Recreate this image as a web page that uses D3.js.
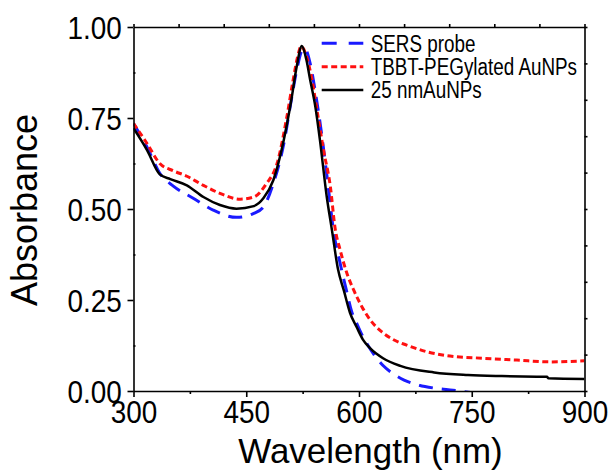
<!DOCTYPE html>
<html>
<head>
<meta charset="utf-8">
<script src="https://d3js.org/d3.v7.min.js"></script>
<style>
  body { margin: 0; background: #fff; }
  svg { font-family: "Liberation Sans", Arial, sans-serif; }
  .axis path, .axis line { stroke: #000; stroke-width: 1.6px; }
</style>
</head>
<body>
<svg id="chart"></svg>
<script>
  var w = 613, h = 471;
  var x0 = 133.5, x1 = 584.5, y0 = 391, y1 = 27;

  // series: [wavelength, absorbance]
  var sersProbe = [
    [300,0.735],[318,0.670],[335,0.598],[353,0.563],[380,0.529],[406,0.497],[437,0.477],
    [460,0.488],[473,0.506],[486,0.570],[500,0.680],[510,0.800],[518,0.890],[524,0.935],
    [528,0.940],[535,0.900],[542,0.820],[550,0.710],[558,0.580],[566,0.442],[575,0.350],
    [584,0.270],[590,0.220],[597,0.186],[605,0.150],[612,0.125],[620,0.100],[632,0.070],
    [645,0.048],[660,0.030],[680,0.016],[700,0.008],[725,0.002],[752,-0.005]
  ];
  var tbbtPeg = [
    [300,0.735],[318,0.680],[335,0.625],[353,0.605],[371,0.590],[393,0.565],[415,0.543],
    [442,0.527],[460,0.533],[477,0.570],[491,0.625],[504,0.753],[512,0.850],[518,0.915],
    [523,0.947],[530,0.920],[537,0.860],[545,0.760],[553,0.660],[562,0.560],[568,0.450],
    [575,0.387],[584,0.323],[593,0.277],[604,0.231],[615,0.195],[630,0.163],[645,0.142],
    [665,0.125],[690,0.108],[721,0.096],[765,0.090],[810,0.085],[854,0.080],[900,0.083]
  ];
  var auNPs = [
    [300,0.722],[318,0.662],[335,0.595],[349,0.582],[371,0.565],[393,0.533],[415,0.511],
    [437,0.501],[460,0.508],[473,0.530],[486,0.579],[500,0.690],[510,0.800],[517,0.890],
    [524,0.948],[530,0.910],[535,0.855],[542,0.780],[548,0.690],[557,0.535],[564,0.442],
    [572,0.335],[580,0.275],[588,0.215],[597,0.175],[605,0.142],[615,0.117],[632,0.090],
    [655,0.069],[700,0.051],[745,0.044],[790,0.041],[850,0.039],[852,0.035],[900,0.033]
  ];

  var legendNames = ["SERS probe", "TBBT-PEGylated AuNPs", "25 nmAuNPs"];
  var xTicks = [300, 450, 600, 750, 900];
  var xMinor = [375, 525, 675, 825];
  var yTicks = [0, 0.25, 0.5, 0.75, 1.0];
  var yMinor = [0.125, 0.375, 0.625, 0.875];
  var topTicks = d3.range(300, 901, 60);
  var rightTicks = d3.range(0, 1.0001, 0.1);

  var series = [
    {data: sersProbe, color: "#1a1aff", width: 3, dash: "14,9", legDash: "15,12"},
    {data: tbbtPeg, color: "#ff1010", width: 3, dash: "6,3.5", legDash: "6,3.5"},
    {data: auNPs, color: "#000", width: 2.5, dash: null, legDash: null}
  ];

  var svg = d3.select("#chart").attr("width", w).attr("height", h);

  var x = d3.scaleLinear().domain([300, 900]).range([x0, x1]);
  var y = d3.scaleLinear().domain([0, 1]).range([y0, y1]);

  svg.append("defs").append("clipPath").attr("id", "clip")
    .append("rect").attr("x", x0).attr("y", y1).attr("width", x1 - x0).attr("height", y0 - y1);

  var line = d3.line()
    .x(function(d){ return x(d[0]); })
    .y(function(d){ return y(d[1]); })
    .curve(d3.curveMonotoneX);

  var plot = svg.append("g").attr("clip-path", "url(#clip)");
  series.forEach(function(s){
    plot.append("path")
      .attr("d", line(s.data))
      .attr("fill", "none")
      .attr("stroke", s.color)
      .attr("stroke-width", s.width)
      .attr("stroke-dasharray", s.dash)
      .attr("stroke-linejoin", "round");
  });

  // minor ticks
  svg.append("g").attr("class", "axis")
    .attr("transform", "translate(0," + y0 + ")")
    .call(d3.axisBottom(x).tickValues(xMinor).tickSize(3).tickFormat(""))
    .select(".domain").remove();
  svg.append("g").attr("class", "axis")
    .attr("transform", "translate(" + x0 + ",0)")
    .call(d3.axisRight(y).tickValues(yMinor).tickSize(2).tickFormat(""))
    .select(".domain").remove();

  // top and right mirror axes
  svg.append("g").attr("class", "axis")
    .attr("transform", "translate(0," + y1 + ")")
    .call(d3.axisTop(x).tickValues(topTicks).tickSizeInner(3).tickSizeOuter(0).tickFormat(""));
  svg.append("g").attr("class", "axis")
    .attr("transform", "translate(" + x1 + ",0)")
    .call(d3.axisRight(y).tickValues(rightTicks).tickSizeInner(3).tickSizeOuter(0).tickFormat(""));

  // main axes
  var sx = 0.9;
  var xAxis = svg.append("g").attr("class", "axis")
    .attr("transform", "translate(0," + y0 + ")")
    .call(d3.axisBottom(x).tickValues(xTicks).tickSizeInner(6).tickSizeOuter(0).tickPadding(4).tickFormat(d3.format("d")));
  xAxis.selectAll("text")
    .style("font-size", "31px").attr("fill", "#000")
    .attr("transform", "scale(" + sx + ",1)");

  var yAxis = svg.append("g").attr("class", "axis")
    .attr("transform", "translate(" + x0 + ",0)")
    .call(d3.axisLeft(y).tickValues(yTicks).tickSizeInner(6).tickSizeOuter(0).tickFormat(d3.format(".2f")));
  yAxis.selectAll("text")
    .style("font-size", "31px").attr("fill", "#000")
    .attr("x", -11.8 / sx)
    .attr("dy", "0.36em")
    .attr("transform", "scale(" + sx + ",1)");

  // axis titles
  svg.append("text")
    .attr("transform", "translate(370.5,463) scale(0.97,1)")
    .attr("text-anchor", "middle")
    .style("font-size", "36px")
    .text("Wavelength (nm)");

  svg.append("text")
    .attr("transform", "translate(37,210) rotate(-90)")
    .attr("text-anchor", "middle")
    .style("font-size", "36px")
    .text("Absorbance");

  // legend
  var legY = [43.3, 66.7, 90];
  var leg = svg.append("g");
  series.forEach(function(s, i){
    leg.append("line")
      .attr("x1", 321.7).attr("x2", 363.3)
      .attr("y1", legY[i]).attr("y2", legY[i])
      .attr("stroke", s.color)
      .attr("stroke-width", s.width)
      .attr("stroke-dasharray", s.legDash);
    leg.append("text")
      .attr("transform", "translate(370.7," + (legY[i] + 8.3) + ") scale(0.82,1)")
      .style("font-size", "23px")
      .text(legendNames[i]);
  });
</script>
</body>
</html>
